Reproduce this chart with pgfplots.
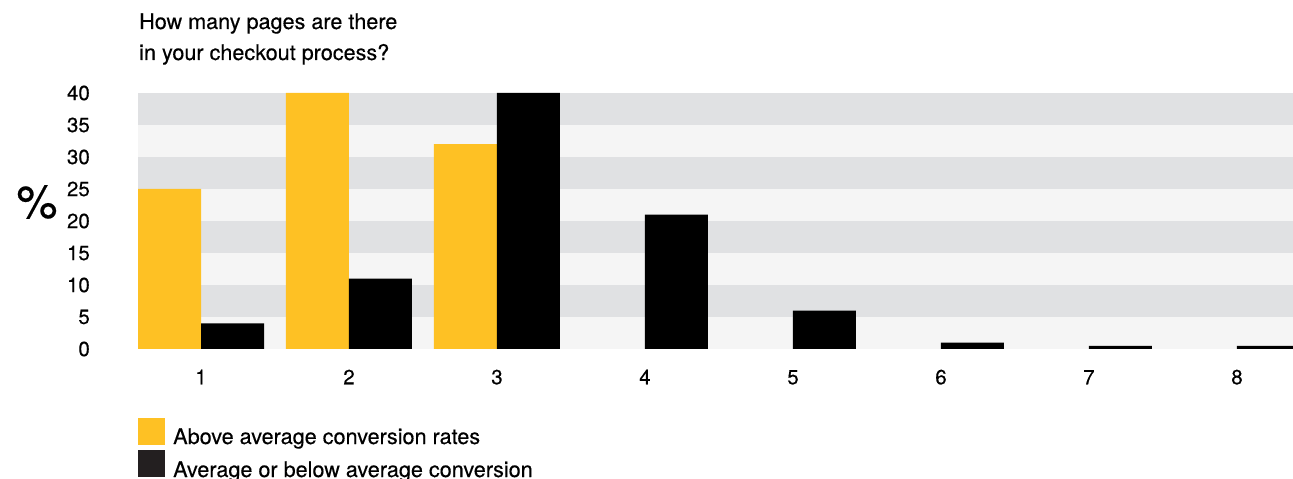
\documentclass[border=0pt]{standalone}
\usepackage{fontspec}
\setmainfont{TeX Gyre Heros}[FakeBold=0.35]
\usepackage{pgfplots}
\pgfplotsset{compat=1.18}
\definecolor{ybarc}{HTML}{FEC124}
\definecolor{bandD}{HTML}{E0E1E3}
\definecolor{bandL}{HTML}{F5F5F5}
\definecolor{legblk}{HTML}{231F20}
\newcommand{\tfont}{\fontsize{21.6}{25}\selectfont}
\begin{document}
\begin{tikzpicture}
\begin{axis}[
  name=ax, at={(0,0)}, anchor=south west,
  set layers,
  scale only axis, width=1155pt, height=256pt,
  xmin=0.5743, xmax=8.3783, ymin=0, ymax=40,
  axis line style={draw=none}, tick style={draw=none},
  xtick={1,2,3,4,5,6,7,8}, ytick={0,5,10,15,20,25,30,35,40},
  ybar=0pt, bar width=63pt,
  /pgf/number format/assume math mode=true,
  ticklabel style={font=\fontsize{20.5}{24}\selectfont},
  xticklabel style={anchor=base, yshift=-31pt, inner sep=0pt},
  yticklabel style={anchor=east, xshift=-48pt, inner sep=0pt},
]
\begin{pgfonlayer}{axis background}
\fill[bandL] (axis cs:0.5743,0) rectangle (axis cs:8.3783,40);
\fill[bandD] (axis cs:0.5743,5) rectangle (axis cs:8.3783,10);
\fill[bandD] (axis cs:0.5743,15) rectangle (axis cs:8.3783,20);
\fill[bandD] (axis cs:0.5743,25) rectangle (axis cs:8.3783,30);
\fill[bandD] (axis cs:0.5743,35) rectangle (axis cs:8.3783,40);
\end{pgfonlayer}
\addplot[fill=ybarc, draw=none] coordinates {(1,25) (2,40) (3,32)};
\addplot[fill=black, draw=none] coordinates {(1,4) (2,11) (3,40) (4,21) (5,6) (6,1) (7,0.5) (8,0.5)};
\end{axis}
\node[anchor=base west, inner sep=0pt, font=\tfont] at (1pt,320pt) {How many pages are there};
\node[anchor=base west, inner sep=0pt, font=\tfont] at (1pt,289pt) {in your checkout process?};
\node[font=\fontsize{46}{46}\selectfont, inner sep=0pt] at (-101pt,147pt) {\%};
\fill[ybarc] (0,-96pt) rectangle (27pt,-69pt);
\fill[legblk] (0,-128pt) rectangle (27pt,-101pt);
\node[anchor=base west, inner sep=0pt, font=\tfont] at (35pt,-95pt) {Above average conversion rates};
\node[anchor=base west, inner sep=0pt, font=\tfont] at (35pt,-128pt) {Average or below average conversion};
\pgfresetboundingbox
\useasboundingbox (-138pt,-130pt) rectangle (1155pt,349pt);
\end{tikzpicture}
\end{document}
